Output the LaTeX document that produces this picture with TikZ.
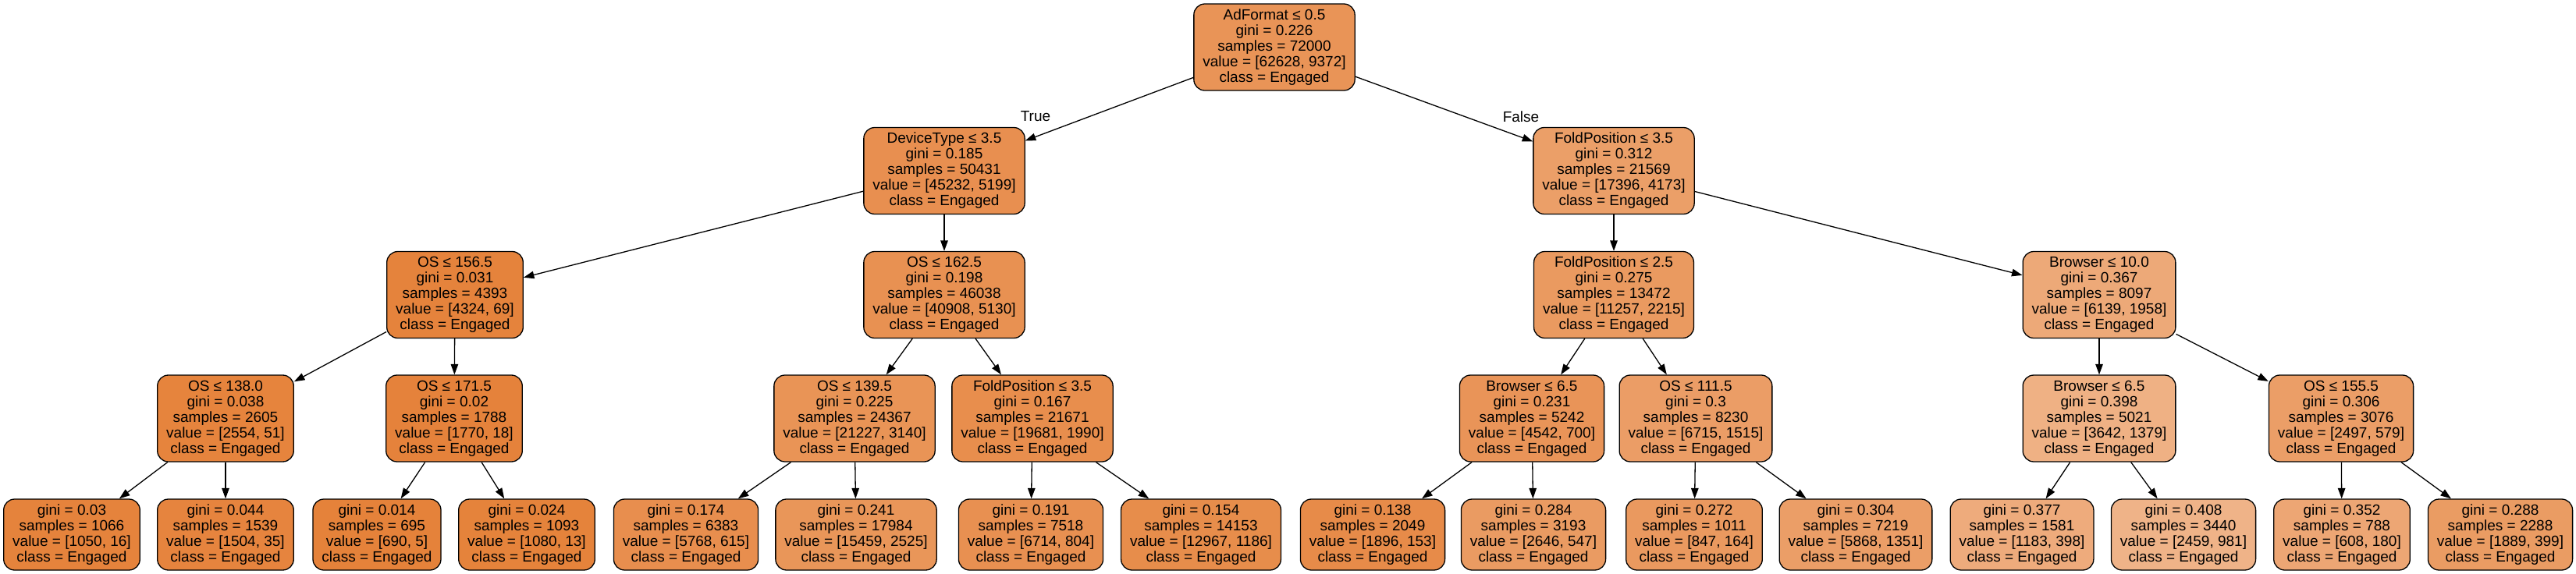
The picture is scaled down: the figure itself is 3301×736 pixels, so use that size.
\documentclass[tikz,border=0pt]{standalone}
\usepackage{fontspec}
\setmainfont{Liberation Sans}
\usetikzlibrary{arrows.meta}
\tikzset{
  tn/.style={draw=black, line width=1.3pt, rounded corners=14pt, align=center,
    inner xsep=11.5pt, inner ysep=0pt, minimum height=111pt,
    font=\fontsize{19}{20}\selectfont},
  leaf/.style={tn, minimum height=91pt},
  conn/.style={line width=1.3pt, draw=black, -{Triangle[length=13.5pt,width=9.5pt]}},
  lbl/.style={font=\fontsize{19}{20}\selectfont, inner sep=0pt}
}
\begin{document}
\begin{tikzpicture}[x=1pt,y=1pt]
\path[fill=white] (0,0) rectangle (3301,-736);
\useasboundingbox (0,0) rectangle (3301,-736);
% level 0
\node[tn, fill={rgb,255:red,233;green,148;blue,87}] (root) at (1633,-60.5) {AdFormat ≤ 0.5\\gini = 0.226\\samples = 72000\\value = [62628, 9372]\\class = Engaged};
% level 1
\node[tn, fill={rgb,255:red,232;green,143;blue,80}] (dev) at (1210,-219) {DeviceType ≤ 3.5\\gini = 0.185\\samples = 50431\\value = [45232, 5199]\\class = Engaged};
\node[tn, fill={rgb,255:red,235;green,159;blue,104}] (fp1) at (2068,-219) {FoldPosition ≤ 3.5\\gini = 0.312\\samples = 21569\\value = [17396, 4173]\\class = Engaged};
% level 2
\node[tn, fill={rgb,255:red,229;green,131;blue,60}] (os1) at (583,-378) {OS ≤ 156.5\\gini = 0.031\\samples = 4393\\value = [4324, 69]\\class = Engaged};
\node[tn, fill={rgb,255:red,232;green,145;blue,82}] (os2) at (1210,-378) {OS ≤ 162.5\\gini = 0.198\\samples = 46038\\value = [40908, 5130]\\class = Engaged};
\node[tn, fill={rgb,255:red,234;green,154;blue,96}] (fp2) at (2068,-378) {FoldPosition ≤ 2.5\\gini = 0.275\\samples = 13472\\value = [11257, 2215]\\class = Engaged};
\node[tn, fill={rgb,255:red,237;green,169;blue,120}] (br1) at (2690,-378) {Browser ≤ 10.0\\gini = 0.367\\samples = 8097\\value = [6139, 1958]\\class = Engaged};
% level 3
\node[tn, fill={rgb,255:red,230;green,132;blue,61}] (os3) at (289,-536.5) {OS ≤ 138.0\\gini = 0.038\\samples = 2605\\value = [2554, 51]\\class = Engaged};
\node[tn, fill={rgb,255:red,229;green,130;blue,59}] (os4) at (582,-536.5) {OS ≤ 171.5\\gini = 0.02\\samples = 1788\\value = [1770, 18]\\class = Engaged};
\node[tn, fill={rgb,255:red,233;green,148;blue,86}] (os5) at (1095,-536.5) {OS ≤ 139.5\\gini = 0.225\\samples = 24367\\value = [21227, 3140]\\class = Engaged};
\node[tn, fill={rgb,255:red,232;green,142;blue,77}] (fp3) at (1323,-536.5) {FoldPosition ≤ 3.5\\gini = 0.167\\samples = 21671\\value = [19681, 1990]\\class = Engaged};
\node[tn, fill={rgb,255:red,233;green,148;blue,88}] (br2) at (1963,-536.5) {Browser ≤ 6.5\\gini = 0.231\\samples = 5242\\value = [4542, 700]\\class = Engaged};
\node[tn, fill={rgb,255:red,235;green,157;blue,102}] (os6) at (2173,-536.5) {OS ≤ 111.5\\gini = 0.3\\samples = 8230\\value = [6715, 1515]\\class = Engaged};
\node[tn, fill={rgb,255:red,239;green,177;blue,132}] (br3) at (2690,-536.5) {Browser ≤ 6.5\\gini = 0.398\\samples = 5021\\value = [3642, 1379]\\class = Engaged};
\node[tn, fill={rgb,255:red,235;green,158;blue,103}] (os7) at (3000,-536.5) {OS ≤ 155.5\\gini = 0.306\\samples = 3076\\value = [2497, 579]\\class = Engaged};
% leaves
\node[leaf, fill={rgb,255:red,229;green,131;blue,60}] (l1) at (92,-685.5) {gini = 0.03\\samples = 1066\\value = [1050, 16]\\class = Engaged};
\node[leaf, fill={rgb,255:red,230;green,132;blue,62}] (l2) at (289,-685.5) {gini = 0.044\\samples = 1539\\value = [1504, 35]\\class = Engaged};
\node[leaf, fill={rgb,255:red,229;green,130;blue,58}] (l3) at (483,-685.5) {gini = 0.014\\samples = 695\\value = [690, 5]\\class = Engaged};
\node[leaf, fill={rgb,255:red,229;green,131;blue,59}] (l4) at (675,-685.5) {gini = 0.024\\samples = 1093\\value = [1080, 13]\\class = Engaged};
\node[leaf, fill={rgb,255:red,232;green,142;blue,78}] (l5) at (879,-685.5) {gini = 0.174\\samples = 6383\\value = [5768, 615]\\class = Engaged};
\node[leaf, fill={rgb,255:red,233;green,150;blue,89}] (l6) at (1097,-685.5) {gini = 0.241\\samples = 17984\\value = [15459, 2525]\\class = Engaged};
\node[leaf, fill={rgb,255:red,232;green,144;blue,81}] (l7) at (1321,-685.5) {gini = 0.191\\samples = 7518\\value = [6714, 804]\\class = Engaged};
\node[leaf, fill={rgb,255:red,231;green,141;blue,75}] (l8) at (1539,-685.5) {gini = 0.154\\samples = 14153\\value = [12967, 1186]\\class = Engaged};
\node[leaf, fill={rgb,255:red,231;green,139;blue,73}] (l9) at (1759,-685.5) {gini = 0.138\\samples = 2049\\value = [1896, 153]\\class = Engaged};
\node[leaf, fill={rgb,255:red,234;green,155;blue,98}] (l10) at (1965,-685.5) {gini = 0.284\\samples = 3193\\value = [2646, 547]\\class = Engaged};
\node[leaf, fill={rgb,255:red,234;green,153;blue,95}] (l11) at (2171,-685.5) {gini = 0.272\\samples = 1011\\value = [847, 164]\\class = Engaged};
\node[leaf, fill={rgb,255:red,235;green,158;blue,103}] (l12) at (2378,-685.5) {gini = 0.304\\samples = 7219\\value = [5868, 1351]\\class = Engaged};
\node[leaf, fill={rgb,255:red,238;green,171;blue,124}] (l13) at (2591,-685.5) {gini = 0.377\\samples = 1581\\value = [1183, 398]\\class = Engaged};
\node[leaf, fill={rgb,255:red,239;green,179;blue,136}] (l14) at (2798,-685.5) {gini = 0.408\\samples = 3440\\value = [2459, 981]\\class = Engaged};
\node[leaf, fill={rgb,255:red,237;green,166;blue,116}] (l15) at (3001,-685.5) {gini = 0.352\\samples = 788\\value = [608, 180]\\class = Engaged};
\node[leaf, fill={rgb,255:red,234;green,156;blue,99}] (l16) at (3204,-685.5) {gini = 0.288\\samples = 2288\\value = [1889, 399]\\class = Engaged};
% edges
\draw[conn] (root) -- (dev);
\draw[conn] (root) -- (fp1);
\draw[conn] (dev) -- (os1);
\draw[conn] (dev) -- (os2);
\draw[conn] (fp1) -- (fp2);
\draw[conn] (fp1) -- (br1);
\draw[conn] (os1) -- (os3);
\draw[conn] (os1) -- (os4);
\draw[conn] (os2) -- (os5);
\draw[conn] (os2) -- (fp3);
\draw[conn] (fp2) -- (br2);
\draw[conn] (fp2) -- (os6);
\draw[conn] (br1) -- (br3);
\draw[conn] (br1) -- (os7);
\draw[conn] (os3) -- (l1);
\draw[conn] (os3) -- (l2);
\draw[conn] (os4) -- (l3);
\draw[conn] (os4) -- (l4);
\draw[conn] (os5) -- (l5);
\draw[conn] (os5) -- (l6);
\draw[conn] (fp3) -- (l7);
\draw[conn] (fp3) -- (l8);
\draw[conn] (br2) -- (l9);
\draw[conn] (br2) -- (l10);
\draw[conn] (os6) -- (l11);
\draw[conn] (os6) -- (l12);
\draw[conn] (br3) -- (l13);
\draw[conn] (br3) -- (l14);
\draw[conn] (os7) -- (l15);
\draw[conn] (os7) -- (l16);
% edge labels
\node[lbl] (ltrue) at (1327,-149) {True};
\node[lbl] (lfalse) at (1949,-150) {False};
\end{tikzpicture}
\end{document}
